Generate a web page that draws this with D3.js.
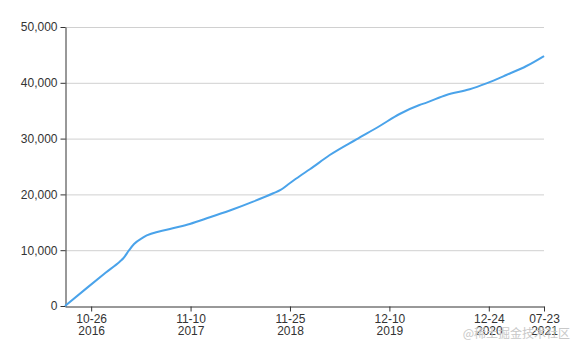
<!DOCTYPE html>
<html>
<head>
<meta charset="utf-8">
<script src="https://cdn.jsdelivr.net/npm/d3@7"></script>
<style>
  body { margin: 0; background: #fff; }
  svg { display: block; font-family: "Noto Sans", "DejaVu Sans", sans-serif; }
</style>
</head>
<body>
<svg id="chart" width="585" height="351"></svg>
<script>
// cumulative count
const dates = [
  "2016-07-18", "2016-10-10", "2016-12-20", "2017-02-12", "2017-02-26",
  "2017-03-20", "2017-04-08", "2017-05-13", "2017-08-23", "2017-11-07",
  "2018-01-23", "2018-04-22", "2018-07-07", "2018-09-22", "2018-10-20",
  "2018-11-24", "2019-01-02", "2019-02-09", "2019-04-26", "2019-08-06",
  "2019-11-03", "2020-01-18", "2020-04-03", "2020-04-30", "2020-07-15",
  "2020-10-12", "2020-12-15", "2021-03-01", "2021-05-17", "2021-07-23"
];
const values = [
  0, 3250, 5950, 7950, 8550,
  10000, 11100, 12300, 13800, 14700,
  15900, 17330, 18700, 20200, 20800,
  22000, 23300, 24500, 27060, 29870,
  32260, 34410, 36020, 36450, 37810,
  38830, 39900, 41400, 43010, 44800
];
const xTickDates = ["2016-10-26", "2017-11-10", "2018-11-25", "2019-12-10", "2020-12-24", "2021-07-23"];
const yTicks = [0, 10000, 20000, 30000, 40000, 50000];

const parse = d3.timeParse("%Y-%m-%d");
const data = dates.map((d, i) => ({ date: parse(d), value: values[i] }));

const svg = d3.select("#chart");
const margin = { left: 65, right: 41, top: 27, bottom: 45 };
const width = 585 - margin.left - margin.right;
const height = 351 - margin.top - margin.bottom;

const x = d3.scaleTime()
  .domain(d3.extent(data, d => d.date))
  .range([margin.left, margin.left + width]);
const y = d3.scaleLinear()
  .domain([0, 50000])
  .range([margin.top + height, margin.top]);

// grid lines
svg.append("g")
  .selectAll("line")
  .data(yTicks.slice(1))
  .join("line")
  .attr("x1", margin.left)
  .attr("x2", margin.left + width)
  .attr("y1", d => y(d) + 0.5)
  .attr("y2", d => y(d) + 0.5)
  .attr("stroke", "#d0d0d0")
  .attr("stroke-width", 1);

// y axis
const yAxis = svg.append("g")
  .attr("transform", `translate(${margin.left + 0.5},0)`)
  .call(d3.axisLeft(y).tickValues(yTicks).tickSize(5).tickSizeOuter(0).tickPadding(3)
    .tickFormat(d3.format(",")));
yAxis.select(".domain").attr("stroke", "#333");
yAxis.selectAll(".tick line").attr("stroke", "#333");
yAxis.selectAll("text").attr("fill", "#333").attr("font-size", 12);

// x axis
const xAxis = svg.append("g")
  .attr("transform", `translate(0,${margin.top + height + 0.5})`)
  .call(d3.axisBottom(x).tickValues(xTickDates.map(parse)).tickSize(5).tickSizeOuter(0)
    .tickFormat(""));
xAxis.select(".domain").attr("stroke", "#333");
xAxis.selectAll(".tick line").attr("stroke", "#333");
const lbl = xAxis.selectAll(".tick text")
  .attr("fill", "#333")
  .attr("font-size", 12)
  .attr("y", 8);
lbl.append("tspan").attr("x", 0).attr("dy", "0.71em").text(d => d3.timeFormat("%m-%d")(d));
lbl.append("tspan").attr("x", 0).attr("dy", "1em").text(d => d3.timeFormat("%Y")(d));

// line
const line = d3.line()
  .x(d => x(d.date))
  .y(d => y(d.value))
  .curve(d3.curveMonotoneX);
svg.append("path")
  .datum(data)
  .attr("fill", "none")
  .attr("stroke", "#4aa3ea")
  .attr("stroke-width", 2)
  .attr("d", line);

// watermark
svg.append("text")
  .attr("x", 570)
  .attr("y", 338)
  .attr("text-anchor", "end")
  .attr("font-size", 12)
  .attr("fill", "#c8c8c8")
  .attr("font-family", "Noto Sans CJK SC")
  .text("@稀土掘金技术社区");
</script>
</body>
</html>
